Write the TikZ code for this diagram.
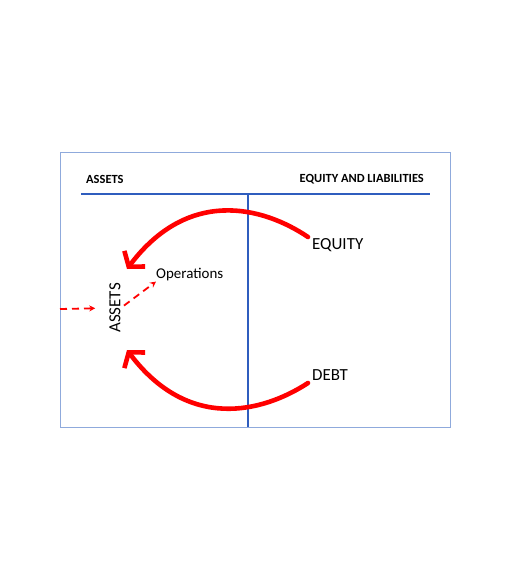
\documentclass[tikz,border=0pt]{standalone}
\usepackage{fontspec}
\setmainfont{Carlito}
\usepackage{pgf,tikz}
\usetikzlibrary{arrows.meta, positioning}
\definecolor{rulecol}{RGB}{47,93,190}
\definecolor{framecol}{RGB}{143,170,220}
\definecolor{flowred}{RGB}{255,0,0}

\begin{document}
\begin{tikzpicture}[x=1bp,y=-1bp,
		hdr/.style={inner sep=0pt,font=\bfseries\fontsize{12.5}{13}\selectfont},
		item/.style={inner sep=0pt,font=\fontsize{17}{18}\selectfont},
		bigflow/.style={flowred,line width=4.6bp,line cap=round,-{Straight Barb[length=10bp,width=26bp]}},
		dashflow/.style={flowred,line width=1.8bp,dash pattern=on 7bp off 5bp,-{Stealth[length=6bp,width=6bp]}}]
		\useasboundingbox (0,0) rectangle (510,578);
		%		\draw[step=10,black!20,thin] (0,0) grid (510,578);
		
		\draw[framecol,line width=1bp] (60,153) rectangle (450,427);
		\draw[rulecol,line width=2bp] (81,194) -- (430,194);
		\draw[rulecol,line width=2bp] (248,194) -- (248,427);
		
		\node[hdr,anchor=west] (hdrassets) at (86,179) {ASSETS};
		\node[hdr,anchor=east] (hdrequity) at (424,179) {EQUITY AND LIABILITIES};
		\node[item,anchor=west] (equity) at (312,245) {EQUITY};
		\node[item,anchor=west] (debt) at (312,375) {DEBT};
		\node[inner sep=0pt,anchor=west,font=\fontsize{15}{16}\selectfont] (ops) at (156,275) {Operations};
		\node[item,rotate=90] (assets) at (115,308) {ASSETS};
		
		\coordinate (eqend) at (127,269);
		\coordinate (debtend) at (127,350);
		\coordinate (fin) at (60,309);
		
		\draw[bigflow] ([shift={(-4,-8)}]equity.west) .. controls (262,206) and (188,188) .. (eqend);
		\draw[bigflow] ([shift={(-4,8)}]debt.west) .. controls (262,413) and (188,431) .. (debtend);
		\draw[dashflow,shorten >=14bp] (fin) -- (assets.north);
		\draw[dashflow,shorten <=4bp] (assets.south) -- (ops.south west);
	\end{tikzpicture}
\end{document}
